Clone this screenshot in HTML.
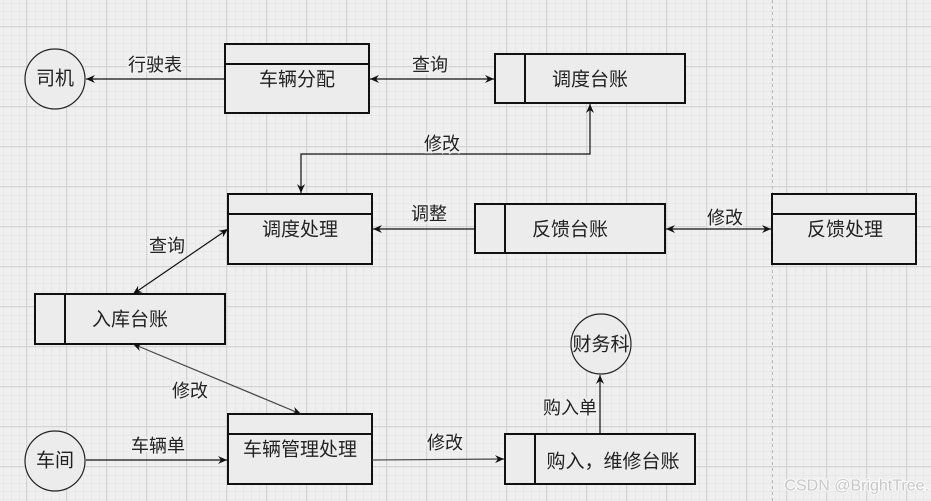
<!DOCTYPE html>
<html><head><meta charset="utf-8"><style>
html,body{margin:0;padding:0;background:#efefef;}
svg{display:block;font-family:"Liberation Sans","Noto Sans CJK SC",sans-serif;}
</style></head><body>
<svg width="931" height="501" viewBox="0 0 931 501" xmlns="http://www.w3.org/2000/svg">
<defs>
<pattern id="minor" width="8" height="8" patternUnits="userSpaceOnUse" x="2" y="2">
<path d="M8 0V8M0 8H8" stroke="#e2e2e2" stroke-width="1" fill="none"/>
</pattern>
<pattern id="major" width="40" height="40" patternUnits="userSpaceOnUse" x="26" y="26">
<rect width="40" height="40" fill="url(#minor)"/>
<path d="M0.5 0V40M0 0.5H40" stroke="#d4d4d4" stroke-width="1" fill="none"/>
</pattern>
<marker id="ah" markerWidth="10" markerHeight="10" refX="9" refY="5" orient="auto" markerUnits="userSpaceOnUse">
<path d="M0 1 L9 5 L0 9 L3 5 Z" fill="#111"/>
</marker>
<marker id="as" markerWidth="10" markerHeight="10" refX="1" refY="5" orient="auto" markerUnits="userSpaceOnUse">
<path d="M10 1 L1 5 L10 9 L7 5 Z" fill="#111"/>
</marker>
</defs>
<rect width="931" height="501" fill="#efefef"/>
<rect width="931" height="501" fill="url(#major)"/>
<line x1="772.5" y1="0" x2="772.5" y2="501" stroke="#bbb" stroke-dasharray="3,3"/>

<g fill="#ececec" stroke="#111" stroke-width="2">
<rect x="225" y="44" width="144" height="69"/>
<rect x="495" y="54" width="190" height="49"/>
<rect x="228" y="194" width="144" height="70"/>
<rect x="475" y="204" width="190" height="49"/>
<rect x="772" y="194" width="144" height="70"/>
<rect x="35" y="294" width="190" height="50"/>
<rect x="228" y="414" width="144" height="70"/>
<rect x="505" y="434" width="190" height="50"/>
</g>
<g stroke="#111" stroke-width="2">
<line x1="225" y1="64" x2="369" y2="64"/>
<line x1="525" y1="54" x2="525" y2="103"/>
<line x1="228" y1="214" x2="372" y2="214"/>
<line x1="505" y1="204" x2="505" y2="253"/>
<line x1="772" y1="214" x2="916" y2="214"/>
<line x1="65" y1="294" x2="65" y2="344"/>
<line x1="228" y1="434" x2="372" y2="434"/>
<line x1="535" y1="434" x2="535" y2="484"/>
</g>
<g fill="#ececec" stroke="#222" stroke-width="1.2">
<circle cx="55" cy="79" r="30"/>
<circle cx="55" cy="461" r="30"/>
<circle cx="601" cy="344" r="30"/>
</g>

<g stroke="#111" stroke-width="1.2" fill="none">
<line x1="225" y1="79" x2="86" y2="79" marker-end="url(#ah)"/>
<line x1="370" y1="79" x2="494" y2="79" marker-start="url(#as)" marker-end="url(#ah)"/>
<path d="M590 104 V154 H301 V193" marker-start="url(#as)" marker-end="url(#ah)"/>
<line x1="475" y1="229" x2="373" y2="229" marker-end="url(#ah)"/>
<line x1="666" y1="229" x2="771" y2="229" marker-start="url(#as)" marker-end="url(#ah)"/>
<line x1="228" y1="229" x2="133" y2="294" marker-start="url(#as)" marker-end="url(#ah)"/>
<line x1="133" y1="344" x2="301" y2="414" stroke="#444" marker-start="url(#as)" marker-end="url(#ah)"/>
<line x1="86" y1="460" x2="227" y2="460" marker-end="url(#ah)"/>
<line x1="372" y1="460" x2="504" y2="459" stroke="#444" marker-end="url(#ah)"/>
<line x1="600" y1="434" x2="600" y2="375" marker-end="url(#ah)"/>
</g>

<g font-size="19" fill="#222" text-anchor="middle" dominant-baseline="central">
<text x="55" y="79">司机</text>
<text x="297" y="80">车辆分配</text>
<text x="590" y="80">调度台账</text>
<text x="300" y="230">调度处理</text>
<text x="570" y="230">反馈台账</text>
<text x="845" y="230">反馈处理</text>
<text x="130" y="320">入库台账</text>
<text x="300" y="450">车辆管理处理</text>
<text x="55" y="461">车间</text>
<text x="613" y="462">购入，维修台账</text>
<text x="601" y="345">财务科</text>
</g>
<g font-size="18" fill="#222" text-anchor="middle" dominant-baseline="central">
<text x="155" y="65" style="paint-order:stroke" stroke="#efefef" stroke-width="4">行驶表</text>
<text x="430" y="65" style="paint-order:stroke" stroke="#efefef" stroke-width="4">查询</text>
<text x="442" y="144" style="paint-order:stroke" stroke="#efefef" stroke-width="4">修改</text>
<text x="429" y="214" style="paint-order:stroke" stroke="#efefef" stroke-width="4">调整</text>
<text x="725" y="218" style="paint-order:stroke" stroke="#efefef" stroke-width="4">修改</text>
<text x="167" y="246" style="paint-order:stroke" stroke="#efefef" stroke-width="4">查询</text>
<text x="190" y="391" style="paint-order:stroke" stroke="#efefef" stroke-width="4">修改</text>
<text x="158" y="446" style="paint-order:stroke" stroke="#efefef" stroke-width="4">车辆单</text>
<text x="445" y="443" style="paint-order:stroke" stroke="#efefef" stroke-width="4">修改</text>
<text x="570" y="408" style="paint-order:stroke" stroke="#efefef" stroke-width="4">购入单</text>
</g>
<text x="929" y="486" font-size="16" fill="#c8c8c8" text-anchor="end" dominant-baseline="central" style="paint-order:stroke" stroke="#fafafa" stroke-width="2">CSDN @BrightTree.</text>
</svg>
</body></html>
